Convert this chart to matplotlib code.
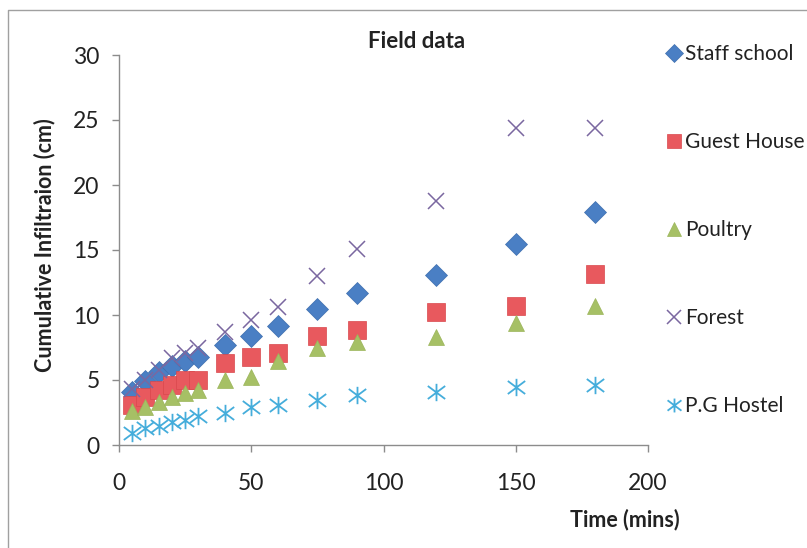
import numpy as np
import matplotlib
matplotlib.use("Agg")
import matplotlib.pyplot as plt
from matplotlib.path import Path

plt.rcParams['font.family'] = ['Lato', 'DejaVu Sans']

time = [5, 10, 15, 20, 25, 30, 40, 50, 60, 75, 90, 120, 150, 180]
staff_school = [4.1, 4.9, 5.6, 6.1, 6.45, 6.8, 7.7, 8.4, 9.15, 10.45, 11.7, 13.1, 15.45, 17.9]
guest_house = [3.1, 3.7, 4.2, 4.6, 5.0, 5.0, 6.3, 6.8, 7.1, 8.4, 8.85, 10.25, 10.7, 13.15]
poultry = [2.6, 2.9, 3.3, 3.7, 4.0, 4.2, 5.0, 5.2, 6.5, 7.5, 7.95, 8.3, 9.4, 10.7]
forest = [4.3, 5.0, 5.8, 6.7, 7.1, 7.5, 8.7, 9.6, 10.6, 13.0, 15.05, 18.8, 24.4, 24.4]
pg_hostel = [0.9, 1.3, 1.5, 1.8, 1.9, 2.2, 2.5, 2.9, 3.1, 3.5, 3.85, 4.1, 4.5, 4.65]

# asterisk like excel: X plus a vertical bar
aster = Path([(-1, -0.75), (1, 0.75), (-1, 0.75), (1, -0.75), (0, -1), (0, 1)],
             [Path.MOVETO, Path.LINETO, Path.MOVETO, Path.LINETO, Path.MOVETO, Path.LINETO])

fig = plt.figure(figsize=(8.07, 5.48), dpi=100)
ax = fig.add_axes([119/807, 1-445/548, (648-119)/807, (445-55)/548])

ax.plot(time, staff_school, ls='none', marker='D', ms=11, color='#4A7FC4',
        mec='#3F6FAE', mew=0.5, label='Staff school')
ax.plot(time, guest_house, ls='none', marker='s', ms=12.5, color='#E8595E',
        mec='#D9474C', mew=0.5, label='Guest House')
ax.plot(time, poultry, ls='none', marker='^', ms=12, color='#A6C065',
        mec='#9BB55A', mew=0.5, label='Poultry')
ax.plot(time, forest, ls='none', marker='x', ms=12, color='#7A67A0',
        mew=1.1, label='Forest')
ax.plot(time, pg_hostel, ls='none', marker=aster, ms=12.5, color='#45ADDB',
        mew=1.3, label='P.G Hostel')

ax.set_xlim(0, 200)
ax.set_ylim(0, 30)
ax.set_xticks([0, 50, 100, 150, 200])
ax.set_yticks([0, 5, 10, 15, 20, 25, 30])
for s in ['top', 'right']:
    ax.spines[s].set_visible(False)
for s in ['left', 'bottom']:
    ax.spines[s].set_color('#8C8C8C')
    ax.spines[s].set_linewidth(1.0)
ax.tick_params(colors='#8C8C8C', labelcolor='#222222', labelsize=16.5, length=5, width=1.0)
ax.tick_params(axis='y', pad=9)
ax.tick_params(axis='x', pad=15)

fig.text(417/807, 1-41/548, 'Field data', fontsize=16, fontweight='bold',
         color='#222222', ha='center', va='center')
fig.text(45/807, 1-245/548, 'Cumulative Infiltraion (cm)', rotation=90, fontsize=15.5,
         fontweight='bold', color='#222222', ha='center', va='center')
fig.text(625/807, 1-520/548, 'Time (mins)', fontsize=15.5, fontweight='bold',
         color='#222222', ha='center', va='center')

leg = fig.legend(loc='upper left', bbox_to_anchor=(656/807, 1-36/548), frameon=False,
                 fontsize=15, labelspacing=3.26, handletextpad=0.1, handlelength=0.9,
                 markerscale=0.8, borderaxespad=0)
for t in leg.get_texts():
    t.set_color('#222222')

# outer chart frame
fig.add_artist(plt.Line2D([8/807, 8/807, 1], [0, 1-10/548, 1-10/548],
                          transform=fig.transFigure, color='#A0A0A0', lw=1))

fig.savefig('out.png', dpi=100)
